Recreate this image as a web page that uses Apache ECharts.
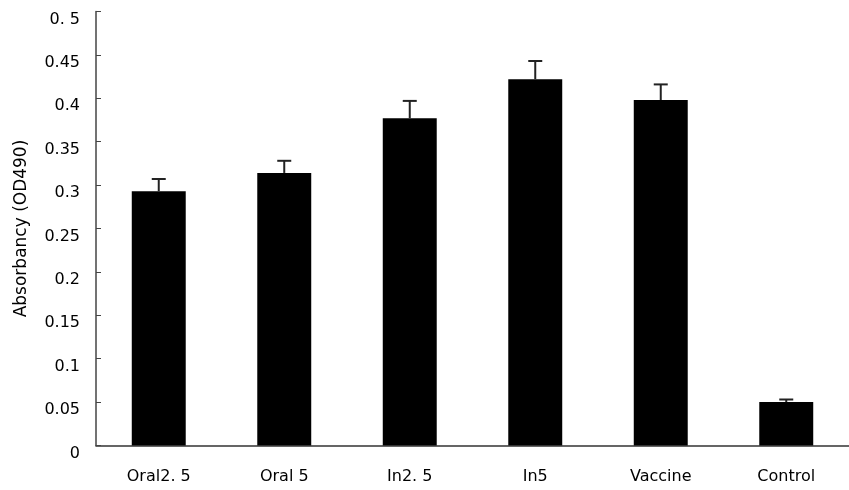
<!DOCTYPE html>
<html>
<head>
<meta charset="utf-8">
<script src="https://cdn.jsdelivr.net/npm/echarts@6/dist/echarts.min.js"></script>
<style>html,body{margin:0;padding:0;background:#fff}#c{width:849px;height:490px}</style>
</head>
<body>
<div id="c"></div>
<script>
var categories = ['Oral2. 5', 'Oral 5', 'In2. 5', 'In5', 'Vaccine', 'Control'];
var values = [0.293, 0.314, 0.377, 0.422, 0.398, 0.050];
var errorTops = [0.307, 0.328, 0.397, 0.443, 0.416, 0.053];
var yTickLabels = {'0': '0', '0.05': '0.05', '0.1': '0.1', '0.15': '0.15', '0.2': '0.2', '0.25': '0.25', '0.3': '0.3', '0.35': '0.35', '0.4': '0.4', '0.45': '0.45', '0.5': '0. 5'};

var FONT = 'DejaVu Sans';
var chart = echarts.init(document.getElementById('c'));
var errData = categories.map(function (c, i) { return [i, values[i], errorTops[i]]; });
chart.setOption({
  animation: false,
  grid: { left: 96, top: 11.5, width: 756, height: 434 },
  xAxis: {
    type: 'category',
    data: categories,
    axisLine: { lineStyle: { color: '#333', width: 1.5 } },
    axisTick: { inside: true, length: 5, lineStyle: { color: '#333' } },
    axisLabel: { margin: 23, fontFamily: FONT, fontSize: 16, color: '#000' }
  },
  yAxis: {
    type: 'value',
    min: 0, max: 0.5, interval: 0.05,
    name: 'Absorbancy (OD490)',
    nameLocation: 'middle',
    nameGap: 66,
    nameTextStyle: { fontFamily: FONT, fontSize: 17, color: '#000' },
    axisLine: { show: true, lineStyle: { color: '#444', width: 1.5 } },
    axisTick: { show: true, inside: true, length: 5, lineStyle: { color: '#444' } },
    splitLine: { show: false },
    axisLabel: {
      margin: 16, fontFamily: FONT, fontSize: 16, color: '#000',
      verticalAlign: 'top', lineHeight: 16,
      formatter: function (v) { var k = String(Math.round(v * 100) / 100); return yTickLabels[k] !== undefined ? yTickLabels[k] : k; }
    }
  },
  series: [
    {
      type: 'bar',
      data: values,
      barWidth: '43%',
      itemStyle: { color: '#000' },
      z: 2
    },
    {
      type: 'custom',
      data: errData,
      z: 3,
      renderItem: function (params, api) {
        var x = api.value(0);
        var p0 = api.coord([x, api.value(1)]);
        var p1 = api.coord([x, api.value(2)]);
        var hw = 7;
        return {
          type: 'group',
          children: [
            { type: 'line', shape: { x1: p0[0], y1: p0[1], x2: p1[0], y2: p1[1] }, style: { stroke: '#222', lineWidth: 2 } },
            { type: 'line', shape: { x1: p1[0] - hw, y1: p1[1], x2: p1[0] + hw, y2: p1[1] }, style: { stroke: '#222', lineWidth: 2 } }
          ]
        };
      }
    }
  ]
});
</script>
</body>
</html>
